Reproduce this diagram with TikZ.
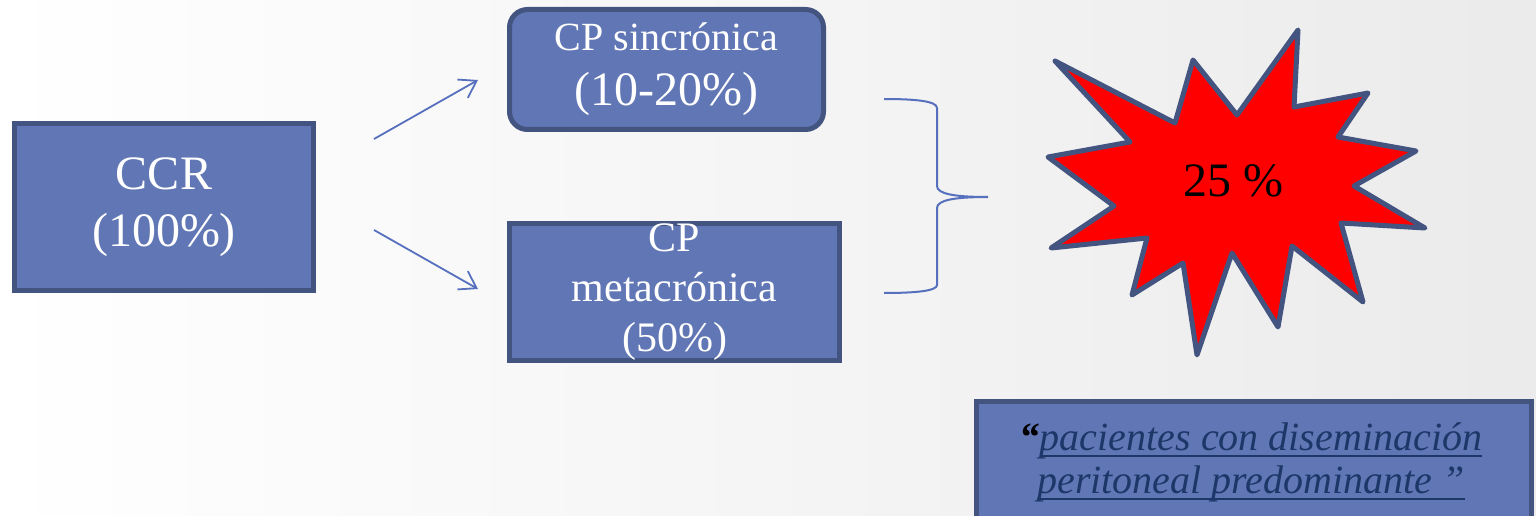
\documentclass[tikz,border=0pt]{standalone}
\usepackage{fontspec}
\setmainfont{Liberation Serif}
\usetikzlibrary{arrows.meta}
\definecolor{boxfill}{RGB}{97,119,181}
\definecolor{boxline}{RGB}{68,84,128}
\definecolor{arrowc}{RGB}{86,112,190}
\definecolor{quotec}{RGB}{30,55,105}
\newcommand\qul[1]{\leavevmode\vtop{\hbox{\raisebox{0pt}[\height][0pt]{#1}}\kern5pt\hrule height 1.8pt}}
\begin{document}
\begin{tikzpicture}[x=1pt,y=-1pt,
  bluebox/.style={draw=boxline, fill=boxfill, line width=5pt, text=white, inner sep=0pt, align=center},
  flowarrow/.style={draw=arrowc, line width=1.8pt, -{Straight Barb[length=16pt,width=21pt]}},
  bracestyle/.style={draw=arrowc, line width=2pt},
  starstyle/.style={draw=boxline, fill=red, line width=5pt, line join=round}]
\useasboundingbox (0,0) rectangle (1536,516);
\clip (0,0) rectangle (1536,516);
\shade[left color=white, right color=black!8] (0,0) rectangle (1536,516);

% boxes
\node[bluebox, minimum width=299pt, minimum height=166pt,
  font=\fontsize{48}{57}\selectfont] (ccr) at (164,207) {CCR\\(100\%)};
\node[bluebox, rounded corners=18pt, minimum width=314pt, minimum height=120pt,
  font=\fontsize{48}{55}\selectfont] (sync) at (666.5,69.5)
  {{\fontsize{40}{48}\selectfont CP sincrónica}\\(10-20\%)};
\node[bluebox, minimum width=330pt, minimum height=133pt,
  font=\fontsize{42}{50}\selectfont] (meta) at (674.5,292) {CP\\metacrónica\\(50\%)};

% arrows
\coordinate (a1s) at (374,139);
\coordinate (a1e) at (478,80);
\coordinate (a2s) at (374,230);
\coordinate (a2e) at (478,289);
\draw[flowarrow] (a1s) -- (a1e);
\draw[flowarrow] (a2s) -- (a2e);

% brace
\coordinate (btop) at (884,99);
\coordinate (btip) at (988,197);
\coordinate (bbot) at (884,293);
\draw[bracestyle] (btop) .. controls (915,99) and (937,101) .. (937,108)
  -- (937,186) .. controls (937,194) and (955,197) .. (btip)
  .. controls (955,197) and (937,200) .. (937,208)
  -- (937,285) .. controls (937,291) and (915,293) .. (bbot);

% starburst
\draw[starstyle] (1055,61) -- (1175,123) -- (1193,60) -- (1237,115) -- (1298,30)
  -- (1294,107) -- (1368,93) -- (1338,137) -- (1416,151) -- (1354,186)
  -- (1425,228) -- (1341,223) -- (1363,302) -- (1292,246) -- (1278,327)
  -- (1232,253) -- (1197,355) -- (1183,263) -- (1132,295) -- (1147,238)
  -- (1051,248) -- (1114,206) -- (1048,157) -- (1130,142) -- cycle;
\node[anchor=base, inner sep=0pt, font=\fontsize{48}{57}\selectfont] (pct) at (1233,196) {25 \%};

% quote box
\node[bluebox, minimum width=555pt, minimum height=150pt, anchor=north west] (qbox) at (973.5,398.5) {};
\node[align=center, inner sep=0pt, text=quotec, font=\itshape\fontsize{40}{43}\selectfont] (qtext) at (1251,461)
  {{\color{black}\bfseries “}\qul{pacientes con diseminación}\\\qul{peritoneal predominante ”}};
\end{tikzpicture}
\end{document}
